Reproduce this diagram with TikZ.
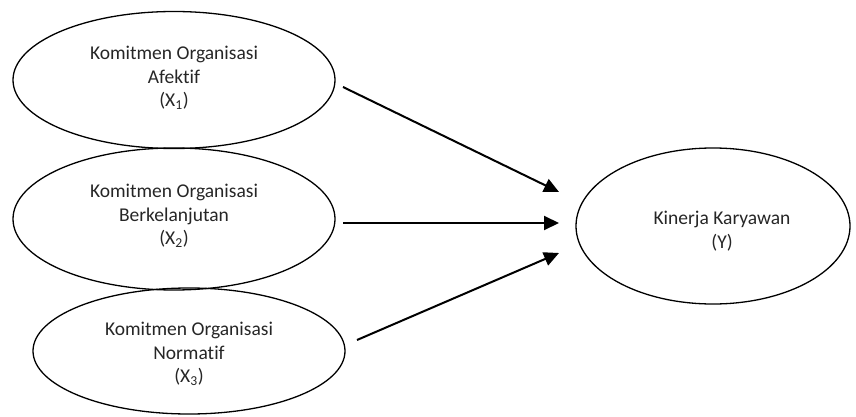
\documentclass[tikz,border=0pt]{standalone}
\usepackage{fontspec}
\setmainfont[Ligatures={NoCommon}]{Carlito}
\usetikzlibrary{shapes.geometric,arrows.meta}
\tikzset{
  var/.style={draw=black, line width=1.3pt, ellipse, inner sep=0pt, align=center,
    text=black!85, font=\fontsize{19.5}{23.5}\selectfont},
  link/.style={draw=black, line width=2pt, -{Triangle[length=15pt,width=14pt]}}
}
\begin{document}
\begin{tikzpicture}[x=1pt,y=-1pt]
\useasboundingbox (0,0) rectangle (856,417);
\node[var, minimum width=322pt, minimum height=137pt] (x1) at (174,80) {};
\node[var, minimum width=322pt, minimum height=142pt] (x2) at (174,219) {};
\node[var, minimum width=312pt, minimum height=126pt] (x3) at (189,351) {};
\node[var, minimum width=274pt, minimum height=156pt] (y) at (713,226) {};
\node[var, draw=none] (t1) at (174,78) {Komitmen Organisasi\\Afektif\\(X\textsubscript{1})};
\node[var, draw=none] (t2) at (174,216) {Komitmen Organisasi\\Berkelanjutan\\(X\textsubscript{2})};
\node[var, draw=none] (t3) at (189,354) {Komitmen Organisasi\\Normatif\\(X\textsubscript{3})};
\node[var, draw=none] (ty) at (722,231) {Kinerja Karyawan\\(Y)};
\coordinate (s1) at (343,87);
\coordinate (s2) at (343,223);
\coordinate (s3) at (357,340);
\coordinate (e1) at (559,192);
\coordinate (e2) at (559,223);
\coordinate (e3) at (559,253);
\draw[link] (s1) -- (e1);
\draw[link] (s2) -- (e2);
\draw[link] (s3) -- (e3);
\end{tikzpicture}
\end{document}
